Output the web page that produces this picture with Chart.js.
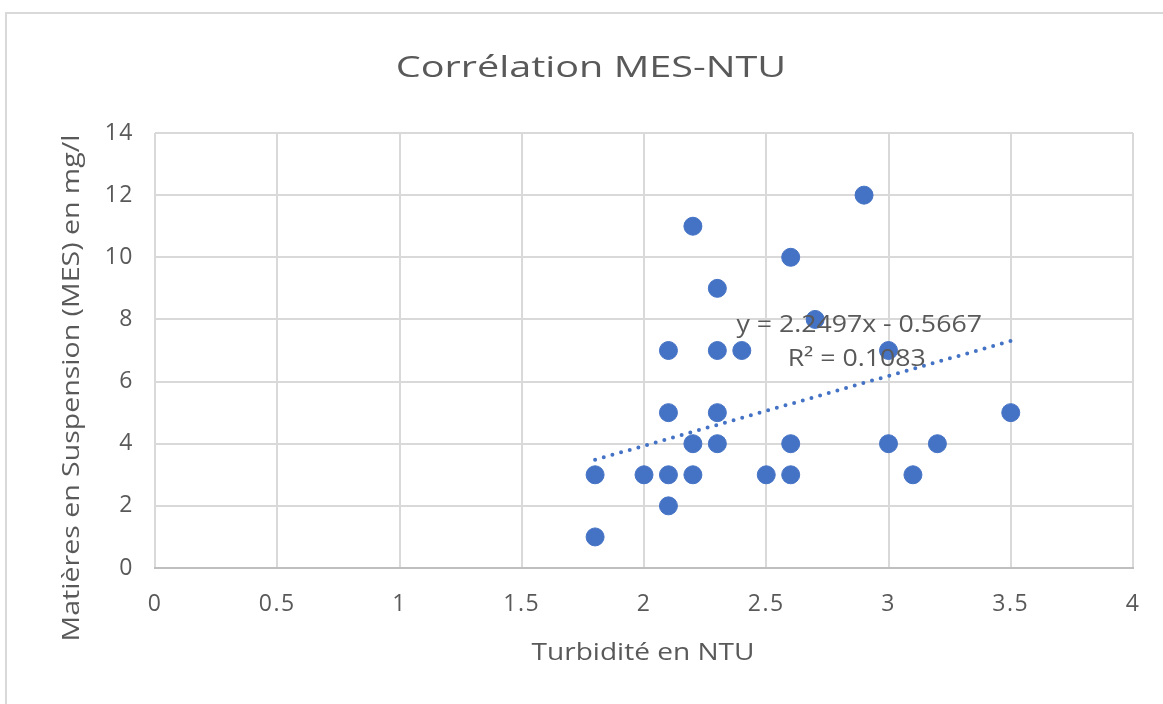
<!DOCTYPE html>
<html>
<head>
<meta charset="utf-8">
<script src="https://cdn.jsdelivr.net/npm/chart.js@4.4.0/dist/chart.umd.min.js"></script>
<style>
  html, body { margin: 0; padding: 0; background: #fff; }
  #frame {
    position: absolute; left: 5px; top: 12px;
    width: 1200px; height: 800px;
    border: 2px solid #d9d9d9;
  }
  #wrap { position: absolute; left: 0; top: 0; width: 1163px; height: 704px; }
</style>
</head>
<body>
<div id="frame"></div>
<div id="wrap"><canvas id="chart" width="1163" height="704"></canvas></div>
<script>
const turbidity = [1.8, 1.8, 2.0, 2.1, 2.1, 2.1, 2.1, 2.2, 2.2, 2.2, 2.3, 2.3, 2.3, 2.3, 2.4, 2.5, 2.6, 2.6, 2.6, 2.7, 2.9, 3.0, 3.0, 3.1, 3.2, 3.5];
const mes       = [3,   1,   3,   7,   5,   3,   2,   11,  4,   3,   9,   7,   5,   4,   7,   3,   10,  4,   3,   8,   12,  7,   4,   3,   4,   5];

const trendSlope = 2.2497;
const trendIntercept = -0.5667;
const trendRange = [1.8, 3.5];
const trendLabel = ["y = 2.2497x - 0.5667", "R\u00b2 = 0.1083"];

const chartTitle = "Corrélation MES-NTU";
const xTitle = "Turbidité en NTU";
const yTitle = "Matières en Suspension (MES) en mg/l";

const xTicks = [0, 0.5, 1, 1.5, 2, 2.5, 3, 3.5, 4];
const yTicks = [0, 2, 4, 6, 8, 10, 12, 14];

const BLUE = "#4472C4";
const TEXT = "#595959";
const GRID = "#d9d9d9";
const FONT = "'Open Sans', sans-serif";

const points = turbidity.map((x, i) => ({ x: x, y: mes[i] }));
const trend = trendRange.map(x => ({ x: x, y: trendSlope * x + trendIntercept }));

// the reference text is wide (stretched Calibri look), so the labels
// are drawn here with a horizontal scale
function wideText(ctx, text, x, y, size, sx, rot) {
  ctx.save();
  ctx.translate(x, y);
  if (rot) ctx.rotate(rot);
  ctx.scale(sx, 1);
  ctx.font = size + "px " + FONT;
  ctx.fillStyle = TEXT;
  ctx.textAlign = "center";
  ctx.textBaseline = "middle";
  ctx.letterSpacing = "0px";
  ctx.fillText(text, 0, 0);
  ctx.restore();
}

const overlay = {
  id: "overlay",
  beforeDraw(chart) {
    chart.ctx.letterSpacing = "1.5px";
  },
  afterDatasetsDraw(chart) {
    const ctx = chart.ctx;
    const xs = chart.scales.x, ys = chart.scales.y;
    wideText(ctx, trendLabel[0], xs.getPixelForValue(2.88), ys.getPixelForValue(7.8), 23, 1.16);
    wideText(ctx, trendLabel[1], xs.getPixelForValue(2.87), ys.getPixelForValue(6.72), 23, 1.16);
    wideText(ctx, chartTitle, 591, 68, 30, 1.32);
    wideText(ctx, xTitle, 643, 653, 23, 1.22);
    wideText(ctx, yTitle, 72, 388, 23, 1.24, -Math.PI / 2);
  }
};

new Chart(
  document.getElementById("chart"),
  {
    type: "scatter",
    plugins: [overlay],
    data: {
      datasets: [
        {
          type: "line",
          data: trend,
          borderColor: BLUE,
          borderWidth: 4,
          borderDash: [0, 9],
          borderCapStyle: "round",
          pointRadius: 0,
          fill: false
        },
        {
          data: points,
          backgroundColor: BLUE,
          borderColor: BLUE,
          pointRadius: 9,
          pointHoverRadius: 9
        }
      ]
    },
    options: {
      responsive: false,
      animation: false,
      events: [],
      layout: { padding: { left: 0, top: 133, right: 30, bottom: 0 } },
      plugins: {
        legend: { display: false },
        tooltip: { enabled: false },
        title: { display: false }
      },
      scales: {
        x: {
          type: "linear",
          min: 0, max: 4,
          afterFit(scale) { scale.height = 136; },
          afterBuildTicks(scale) { scale.ticks = xTicks.map(v => ({ value: v })); },
          grid: { color: GRID, lineWidth: 2, drawTicks: false },
          border: { color: "#bfbfbf", width: 2 },
          ticks: {
            color: TEXT, font: { family: FONT, size: 23 }, padding: 23,
            callback: v => String(v)
          }
        },
        y: {
          type: "linear",
          min: 0, max: 14,
          afterFit(scale) { scale.width = 155; },
          afterBuildTicks(scale) { scale.ticks = yTicks.map(v => ({ value: v })); },
          grid: { color: GRID, lineWidth: 2, drawTicks: false },
          border: { display: false },
          ticks: {
            color: TEXT, font: { family: FONT, size: 23 }, padding: 21,
            callback: v => String(v)
          }
        }
      }
    }
  }
);
</script>
</body>
</html>
